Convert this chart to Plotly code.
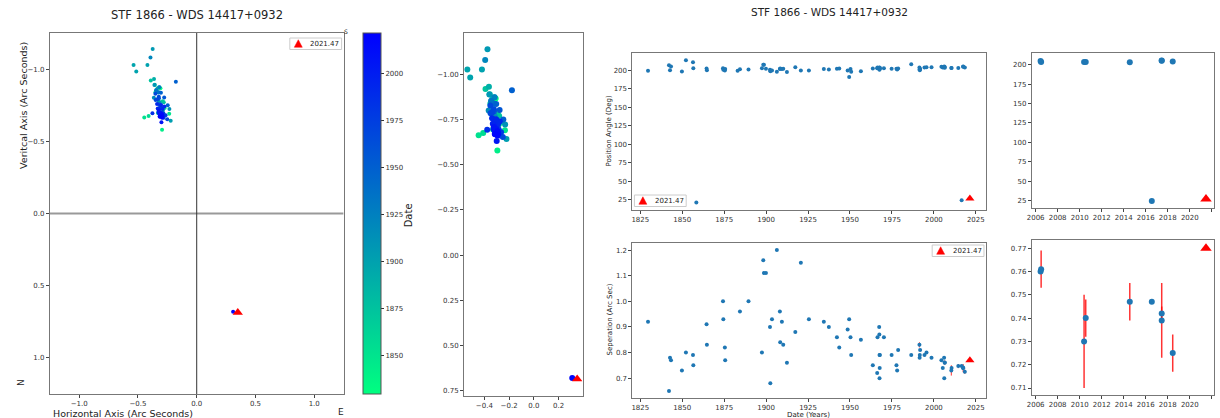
import numpy as np
import plotly.graph_objects as go

W, H = 1220, 418

# ---------------- data ----------------
dates = [1829.6, 1842.1, 1842.7, 1843.3, 1849.8, 1852.2, 1856.4, 1856.6, 1858.4, 1864.5,
         1864.7, 1874.3, 1874.5, 1875.4, 1875.6, 1883.0, 1884.4, 1889.5, 1897.5, 1898.3,
         1898.7, 1899.9, 1902.3, 1902.5, 1903.5, 1906.4, 1908.2, 1908.4, 1909.4, 1910.2,
         1912.4, 1917.4, 1920.7, 1925.5, 1934.4, 1937.4, 1942.2, 1943.6, 1948.6, 1949.5,
         1950.3, 1950.7, 1956.5, 1963.6, 1966.2, 1966.4, 1967.4, 1967.5, 1967.6, 1967.8,
         1967.7, 1967.6, 1970.2, 1974.8, 1977.7, 1978.1, 1978.7, 1986.5, 1991.4, 1991.5,
         1991.6, 1991.8, 1994.4, 1995.6, 1998.6, 2004.5, 2005.3, 2006.1, 2006.2, 2006.45,
         2006.5, 2010.4, 2010.55, 2014.55, 2016.55, 2017.45, 2017.45, 2018.45]
pa = [199.6, 207.0, 200.4, 205.4, 198.7, 213.9, 211.2, 203.1, 21.5, 202.7,
      200.4, 203.0, 201.0, 200.0, 202.0, 199.6, 201.8, 201.3, 203.0, 207.6,
      207.6, 202.2, 201.0, 199.0, 200.0, 198.2, 202.0, 202.5, 202.0, 202.3,
      197.8, 204.5, 200.0, 200.0, 202.0, 201.3, 202.2, 202.7, 200.0, 191.0,
      202.0, 198.2, 199.0, 202.7, 203.0, 204.0, 203.0, 201.8, 204.0, 202.5,
      203.5, 201.0, 203.0, 202.2, 202.2, 201.3, 202.5, 208.5, 204.0, 201.8,
      200.4, 202.0, 204.0, 204.5, 204.5, 205.0, 204.0, 204.5, 205.4, 204.7,
      203.5, 203.3, 203.3, 203.2, 24.5, 205.2, 205.0, 204.0]
sep = [0.92, 0.65, 0.78, 0.77, 0.73, 0.80, 0.79, 0.75, np.nan, 0.91,
       0.83, 1.00, 0.93, 0.82, 0.77, np.nan, 0.96, 1.00, 0.80, 1.16,
       1.11, 1.11, 0.90, 0.68, 0.93, 1.20, 0.96, 0.84, 0.92, 0.83,
       0.76, 0.88, 1.15, 0.93, 0.92, 0.90, 0.86, 0.82, 0.89, 0.93,
       0.86, 0.79, 0.85, 0.75, 0.72, 0.86, 0.90, 0.87, 0.79, 0.79,
       0.74, 0.70, 0.86, 0.79, 0.75, 0.73, 0.81, 0.79, 0.83, 0.78,
       0.79, 0.81, 0.79, 0.80, 0.78, 0.77, 0.74, 0.78, 0.70, 0.760,
       0.761, 0.730, 0.740, 0.747, 0.747, 0.742, 0.739, 0.725]
sep_err = [0, 0, 0, 0, 0, 0, 0, 0, 0, 0,
           0, 0, 0, 0, 0, 0, 0, 0, 0, 0,
           0, 0, 0, 0, 0, 0, 0, 0, 0, 0,
           0, 0, 0, 0, 0, 0, 0, 0, 0, 0,
           0, 0, 0, 0, 0, 0, 0, 0, 0, 0,
           0, 0, 0, 0, 0, 0, 0, 0, 0.01, 0,
           0, 0, 0, 0, 0, 0, 0, 0, 0, 0.0,
           0.008, 0.02, 0.008, 0.008, 0, 0.003, 0.016, 0.008]

new_date = 2021.47
new_pa = 27.0
new_sep = 0.77
new_label = "2021.47"
recent_from = 2006.3

title_text = "STF 1866 - WDS 14417+0932"

# ---------------- derived ----------------
d = np.array(dates); p = np.array(pa); s = np.array(sep); e = np.array(sep_err)
ok = ~np.isnan(s)
xs = s[ok] * np.sin(np.radians(p[ok]))
ys = s[ok] * np.cos(np.radians(p[ok]))
cs = d[ok]
nx = new_sep * np.sin(np.radians(new_pa))
ny = new_sep * np.cos(np.radians(new_pa))
rec = d >= recent_from

winter = [[0, "rgb(0,255,128)"], [1, "rgb(0,0,255)"]]
BLUE = "#1f77b4"
FONT = "DejaVu Sans"
TICKC = "#333333"


def fx(a, b):
    return [a / W, b / W]


def fy(top, bot):
    return [1 - bot / H, 1 - top / H]


fig = go.Figure()

# ---- panel 1 : main orbit plot ----
fig.add_trace(go.Scatter(
    x=xs, y=ys, mode="markers", xaxis="x", yaxis="y", showlegend=False,
    marker=dict(size=4, color=cs, colorscale=winter, cmin=1829.6, cmax=new_date,
                colorbar=dict(x=359 / W, xanchor="left", y=1 - 213.5 / H, yanchor="middle",
                              len=361 / H, lenmode="fraction", thickness=18,
                              outlinecolor="#555", outlinewidth=1,
                              tickvals=[1850, 1875, 1900, 1925, 1950, 1975, 2000],
                              ticks="outside", ticklen=3, tickcolor="#333",
                              tickfont=dict(size=7, color=TICKC, family=FONT),
                              xpad=0, ypad=0))))
fig.add_trace(go.Scatter(
    x=[nx], y=[ny], mode="markers", xaxis="x", yaxis="y", showlegend=False,
    marker=dict(symbol="triangle-up", size=9, color="red")))

# ---- panel 2 : zoomed orbit ----
fig.add_trace(go.Scatter(
    x=xs, y=ys, mode="markers", xaxis="x2", yaxis="y2", showlegend=False,
    marker=dict(size=6, color=cs, colorscale=winter, cmin=1829.6, cmax=new_date)))
fig.add_trace(go.Scatter(
    x=[nx], y=[ny], mode="markers", xaxis="x2", yaxis="y2", showlegend=False,
    marker=dict(symbol="triangle-up", size=9, color="red")))

# ---- panel 3 : PA vs date ----
fig.add_trace(go.Scatter(
    x=d, y=p, mode="markers", xaxis="x3", yaxis="y3", showlegend=False,
    marker=dict(size=4, color=BLUE)))
fig.add_trace(go.Scatter(
    x=[new_date], y=[new_pa], mode="markers", xaxis="x3", yaxis="y3", showlegend=False,
    marker=dict(symbol="triangle-up", size=8, color="red")))

# ---- panel 4 : separation vs date ----
fig.add_trace(go.Scatter(
    x=d, y=s, mode="markers", xaxis="x4", yaxis="y4", showlegend=False,
    error_y=dict(type="data", array=e, visible=True, color="rgba(255,0,0,0.8)",
                 thickness=1, width=0),
    marker=dict(size=4, color=BLUE)))
fig.add_trace(go.Scatter(
    x=[new_date], y=[new_sep], mode="markers", xaxis="x4", yaxis="y4", showlegend=False,
    marker=dict(symbol="triangle-up", size=8, color="red")))

# ---- panel 5 : recent PA ----
fig.add_trace(go.Scatter(
    x=d[rec], y=p[rec], mode="markers", xaxis="x5", yaxis="y5", showlegend=False,
    marker=dict(size=6, color=BLUE)))
fig.add_trace(go.Scatter(
    x=[new_date], y=[new_pa], mode="markers", xaxis="x5", yaxis="y5", showlegend=False,
    marker=dict(symbol="triangle-up", size=10, color="red")))

# ---- panel 6 : recent separation ----
fig.add_trace(go.Scatter(
    x=d[rec], y=s[rec], mode="markers", xaxis="x6", yaxis="y6", showlegend=False,
    error_y=dict(type="data", array=e[rec], visible=True, color="rgba(255,0,0,0.8)",
                 thickness=1.5, width=0),
    marker=dict(size=6, color=BLUE)))
fig.add_trace(go.Scatter(
    x=[new_date], y=[new_sep], mode="markers", xaxis="x6", yaxis="y6", showlegend=False,
    marker=dict(symbol="triangle-up", size=10, color="red")))


def ax(domain, rng, tickvals, ticktext=None, anchor=None, size=7):
    a = dict(domain=domain, range=rng, tickvals=tickvals, showgrid=False, zeroline=False,
             showline=True, mirror=True, linecolor="#777", linewidth=1,
             ticks="outside", ticklen=3, tickcolor="#444",
             tickfont=dict(size=size, color=TICKC, family=FONT), anchor=anchor)
    if ticktext is not None:
        a["ticktext"] = ticktext
    return a


def lab(vals, fmt):
    return [(fmt % v).replace("-", "\u2212") for v in vals]


v1 = [-1.0, -0.5, 0.0, 0.5, 1.0]
v2x = [-0.4, -0.2, 0.0, 0.2]
v2y = [-1.0, -0.75, -0.5, -0.25, 0.0, 0.25, 0.5, 0.75]
v3x = [1825, 1850, 1875, 1900, 1925, 1950, 1975, 2000, 2025]
v3y = [25, 50, 75, 100, 125, 150, 175, 200]
v4y = [0.7, 0.8, 0.9, 1.0, 1.1, 1.2]
v5x = list(range(2006, 2023, 2))
v6y = [0.71, 0.72, 0.73, 0.74, 0.75, 0.76, 0.77]

fig.update_layout(
    width=W, height=H, margin=dict(l=0, r=0, t=0, b=0),
    paper_bgcolor="white", plot_bgcolor="white",
    font=dict(family=FONT, color="#222"), showlegend=False,
    xaxis=ax(fx(45, 340), [-1.25, 1.25], v1, lab(v1, "%.1f"), "y", 7),
    yaxis=ax(fy(33, 394), [1.25, -1.25], v1, lab(v1, "%.1f"), "x", 7),
    xaxis2=ax(fx(461, 580), [-0.5635, 0.3935], v2x, lab(v2x, "%.1f"), "y2"),
    yaxis2=ax(fy(33, 396), [0.78, -1.23], v2y, lab(v2y, "%.2f"), "x2"),
    xaxis3=ax(fx(630, 985), [1820.3, 2031.05], v3x, None, "y3"),
    yaxis3=ax(fy(53, 210), [11.4, 223.6], v3y, None, "x3"),
    xaxis4=ax(fx(630, 985), [1820.3, 2031.05], v3x, None, "y4"),
    yaxis4=ax(fy(243, 398), [0.6225, 1.2275], v4y, lab(v4y, "%.1f"), "x4"),
    xaxis5=ax(fx(1031, 1214), [2005.65, 2022.2], v5x, None, "y5"),
    yaxis5=ax(fy(53, 208), [15.5, 215.0], v3y, None, "x5"),
    xaxis6=ax(fx(1031, 1214), [2005.65, 2022.2], v5x, None, "y6"),
    yaxis6=ax(fy(240, 395), [0.707, 0.7735], v6y, lab(v6y, "%.2f"), "x6"),
)

# zero lines in main panel
fig.add_shape(type="line", xref="x", yref="y", x0=-1.25, x1=1.25, y0=0, y1=0,
              line=dict(color="#999999", width=2), layer="below")
fig.add_shape(type="line", xref="x", yref="y", x0=0, x1=0, y0=-1.25, y1=1.25,
              line=dict(color="#333333", width=1), layer="below")


def note(x, y, text, size=9, angle=0, xanchor="center", yanchor="middle", color="#222"):
    fig.add_annotation(x=x / W, y=1 - y / H, xref="paper", yref="paper", text=text,
                       showarrow=False, textangle=angle, xanchor=xanchor, yanchor=yanchor,
                       font=dict(size=size, family=FONT, color=color))


def legend_box(x0, y0, x1, y1, label):
    """matplotlib-style legend: framed box, red triangle, label (pixel coords)."""
    fig.add_shape(type="rect", xref="paper", yref="paper",
                  x0=x0 / W, x1=x1 / W, y0=1 - y1 / H, y1=1 - y0 / H,
                  line=dict(color="#cccccc", width=1), fillcolor="rgba(255,255,255,0.85)")
    cx, cy = x0 + 8.5, (y0 + y1) / 2
    pts = [(cx, cy - 4), (cx - 4, cy + 3.5), (cx + 4, cy + 3.5)]
    path = "M " + " L ".join(f"{px / W},{1 - py / H}" for px, py in pts) + " Z"
    fig.add_shape(type="path", xref="paper", yref="paper", path=path,
                  fillcolor="red", line=dict(color="red", width=0.5))
    note(x0 + 18.5, cy, label, 7, xanchor="left")


legend_box(286, 38, 338, 49.5, new_label)
legend_box(632, 195, 684, 206.5, new_label)
legend_box(931, 245, 983, 256.5, new_label)

note(193, 15, title_text, 11.5)
note(828, 12, title_text, 10.5)
note(46, 413, "Horizontal Axis (Arc Seconds)", 9.5, xanchor="left")
note(18, 105, "Veritcal Axis (Arc Seconds)", 9.5, angle=-90)
note(16, 382, "N", 9, angle=-90)
note(337, 412, "E", 9)
note(342, 31, "S", 6)
note(406, 215, "Date", 10, angle=-90)
note(606, 131, "Position Angle (Deg)", 7, angle=-90)
note(607, 320, "Seperation (Arc Sec)", 7, angle=-90)
note(807, 414.5, "Date (Years)", 7)

fig.write_html("out.html", config={"displayModeBar": False})
